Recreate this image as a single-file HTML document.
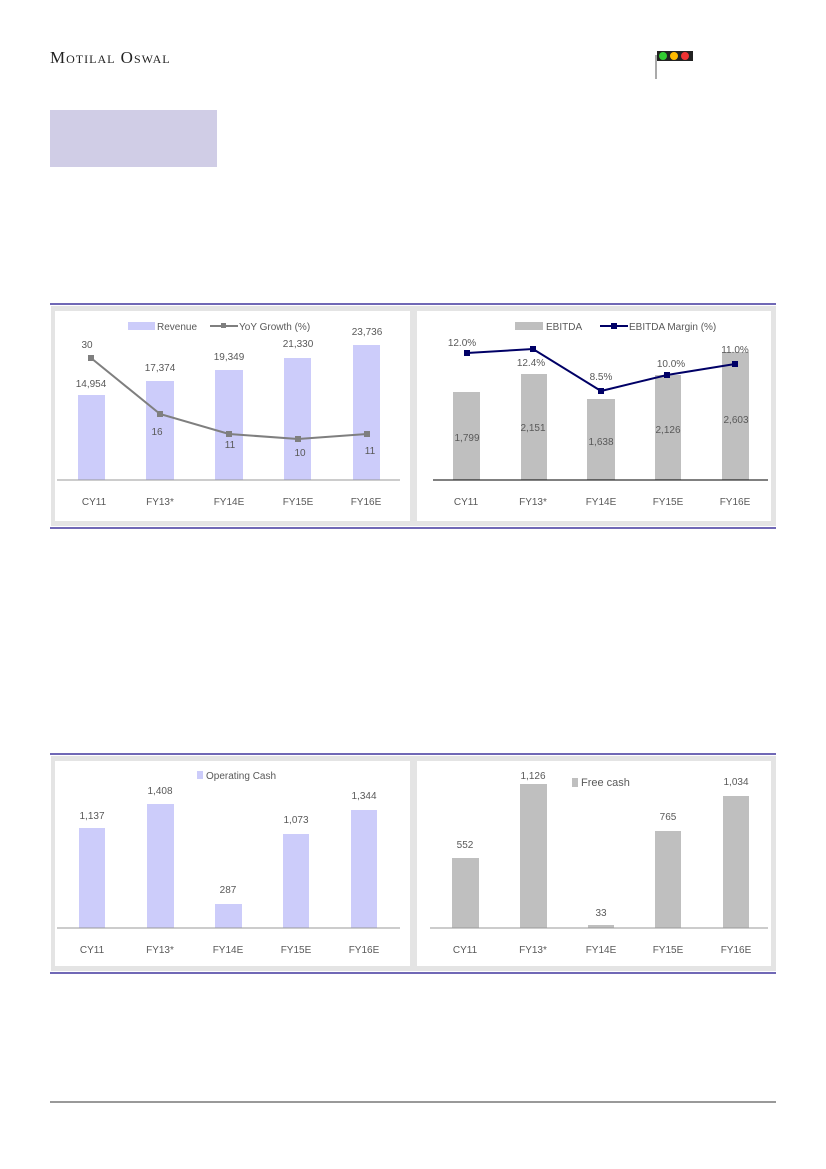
<!DOCTYPE html>
<html><head><meta charset="utf-8"><style>
html,body{margin:0;padding:0;background:#fff;}
svg{display:block;font-family:"Liberation Sans",sans-serif;}
.t{font-size:10px;fill:#595959;text-anchor:middle;}
.l{font-size:10px;fill:#595959;}
</style></head><body>
<svg width="826" height="1169" viewBox="0 0 826 1169">
<text x="50" y="63" style="font-family:'Liberation Serif',serif;font-size:17px;fill:#222;font-variant:small-caps;letter-spacing:1px">Motilal Oswal</text>
<line x1="656" y1="55" x2="656" y2="79" stroke="#555" stroke-width="1"/>
<rect x="657" y="51" width="36" height="10" fill="#222"/>
<circle cx="663" cy="56" r="4" fill="#3c3"/><circle cx="674" cy="56" r="4" fill="#fb0"/><circle cx="685" cy="56" r="4" fill="#e33"/>
<rect x="50" y="110" width="167" height="57" fill="#d0cde6"/>

<!-- top panels -->
<line x1="50" y1="304" x2="776" y2="304" stroke="#1a0f8a" stroke-width="1.2"/>
<rect x="51" y="306" width="725" height="220" fill="#e4e4e4"/>
<rect x="55" y="311" width="355" height="210" fill="#fff"/>
<rect x="417" y="311" width="354" height="210" fill="#fff"/>
<line x1="50" y1="528" x2="776" y2="528" stroke="#1a0f8a" stroke-width="1.2"/>

<!-- chart1 -->
<rect x="128" y="322" width="27" height="8" fill="#ccccfa"/><text class="l" x="157" y="330">Revenue</text>
<line x1="210" y1="326" x2="238" y2="326" stroke="#7f7f7f" stroke-width="2"/><rect x="221" y="323" width="5" height="5" fill="#7f7f7f"/><text class="l" x="239" y="330">YoY Growth (%)</text>
<g fill="#ccccfa">
<rect x="78" y="395" width="27" height="85"/><rect x="146" y="381" width="28" height="99"/><rect x="215" y="370" width="28" height="110"/><rect x="284" y="358" width="27" height="122"/><rect x="353" y="345" width="27" height="135"/>
</g>
<line x1="57" y1="480" x2="400" y2="480" stroke="#999"/>
<polyline points="91,358 160,414 229,434 298,439 367,434" fill="none" stroke="#7f7f7f" stroke-width="2"/>
<g fill="#7f7f7f"><rect x="88" y="355" width="6" height="6"/><rect x="157" y="411" width="6" height="6"/><rect x="226" y="431" width="6" height="6"/><rect x="295" y="436" width="6" height="6"/><rect x="364" y="431" width="6" height="6"/></g>
<text class="t" x="91" y="387">14,954</text><text class="t" x="160" y="371">17,374</text><text class="t" x="229" y="360">19,349</text><text class="t" x="298" y="347">21,330</text><text class="t" x="367" y="335">23,736</text>
<text class="t" x="87" y="348">30</text><text class="t" x="157" y="435">16</text><text class="t" x="230" y="448">11</text><text class="t" x="300" y="456">10</text><text class="t" x="370" y="454">11</text>
<text class="t" x="94" y="505">CY11</text><text class="t" x="160" y="505">FY13*</text><text class="t" x="229" y="505">FY14E</text><text class="t" x="298" y="505">FY15E</text><text class="t" x="366" y="505">FY16E</text>

<!-- chart2 -->
<rect x="515" y="322" width="28" height="8" fill="#bfbfbf"/><text class="l" x="546" y="330">EBITDA</text>
<line x1="600" y1="326" x2="628" y2="326" stroke="#000066" stroke-width="2"/><rect x="611" y="323" width="6" height="6" fill="#000066"/><text class="l" x="629" y="330">EBITDA Margin (%)</text>
<g fill="#bfbfbf">
<rect x="453" y="392" width="27" height="88"/><rect x="521" y="374" width="26" height="106"/><rect x="587" y="399" width="28" height="81"/><rect x="655" y="375" width="26" height="105"/><rect x="722" y="352" width="27" height="128"/>
</g>
<line x1="433" y1="480" x2="768" y2="480" stroke="#000"/>
<polyline points="467,353 533,349 601,391 667,375 735,364" fill="none" stroke="#000066" stroke-width="2"/>
<g fill="#000066"><rect x="464" y="350" width="6" height="6"/><rect x="530" y="346" width="6" height="6"/><rect x="598" y="388" width="6" height="6"/><rect x="664" y="372" width="6" height="6"/><rect x="732" y="361" width="6" height="6"/></g>
<text class="t" x="462" y="346">12.0%</text><text class="t" x="531" y="366">12.4%</text><text class="t" x="601" y="380">8.5%</text><text class="t" x="671" y="367">10.0%</text><text class="t" x="735" y="353">11.0%</text>
<text class="t" x="467" y="441">1,799</text><text class="t" x="533" y="431">2,151</text><text class="t" x="601" y="445">1,638</text><text class="t" x="668" y="433">2,126</text><text class="t" x="736" y="423">2,603</text>
<text class="t" x="466" y="505">CY11</text><text class="t" x="533" y="505">FY13*</text><text class="t" x="601" y="505">FY14E</text><text class="t" x="668" y="505">FY15E</text><text class="t" x="735" y="505">FY16E</text>

<!-- bottom panels -->
<line x1="50" y1="754" x2="776" y2="754" stroke="#1a0f8a" stroke-width="1.2"/>
<rect x="51" y="756" width="725" height="215" fill="#e4e4e4"/>
<rect x="55" y="761" width="355" height="205" fill="#fff"/>
<rect x="417" y="761" width="354" height="205" fill="#fff"/>
<line x1="50" y1="973" x2="776" y2="973" stroke="#1a0f8a" stroke-width="1.2"/>

<!-- chart3 -->
<rect x="197" y="771" width="6" height="8" fill="#ccccfa"/><text class="l" x="206" y="779">Operating Cash</text>
<g fill="#ccccfa">
<rect x="79" y="828" width="26" height="100"/><rect x="147" y="804" width="27" height="124"/><rect x="215" y="904" width="27" height="24"/><rect x="283" y="834" width="26" height="94"/><rect x="351" y="810" width="26" height="118"/>
</g>
<line x1="57" y1="928" x2="400" y2="928" stroke="#999"/>
<text class="t" x="92" y="819">1,137</text><text class="t" x="160" y="794">1,408</text><text class="t" x="228" y="893">287</text><text class="t" x="296" y="823">1,073</text><text class="t" x="364" y="799">1,344</text>
<text class="t" x="92" y="953">CY11</text><text class="t" x="160" y="953">FY13*</text><text class="t" x="228" y="953">FY14E</text><text class="t" x="296" y="953">FY15E</text><text class="t" x="364" y="953">FY16E</text>

<!-- chart4 -->
<rect x="572" y="778" width="6" height="9" fill="#bfbfbf"/><text class="l" x="581" y="786" style="font-size:11px">Free cash</text>
<g fill="#bfbfbf">
<rect x="452" y="858" width="27" height="70"/><rect x="520" y="784" width="27" height="144"/><rect x="588" y="925" width="26" height="3"/><rect x="655" y="831" width="26" height="97"/><rect x="723" y="796" width="26" height="132"/>
</g>
<line x1="430" y1="928" x2="768" y2="928" stroke="#999"/>
<text class="t" x="465" y="848">552</text><text class="t" x="533" y="779">1,126</text><text class="t" x="601" y="916">33</text><text class="t" x="668" y="820">765</text><text class="t" x="736" y="785">1,034</text>
<text class="t" x="465" y="953">CY11</text><text class="t" x="533" y="953">FY13*</text><text class="t" x="601" y="953">FY14E</text><text class="t" x="668" y="953">FY15E</text><text class="t" x="736" y="953">FY16E</text>

<line x1="50" y1="1102" x2="776" y2="1102" stroke="#333" stroke-width="1"/>
</svg>
</body></html>
